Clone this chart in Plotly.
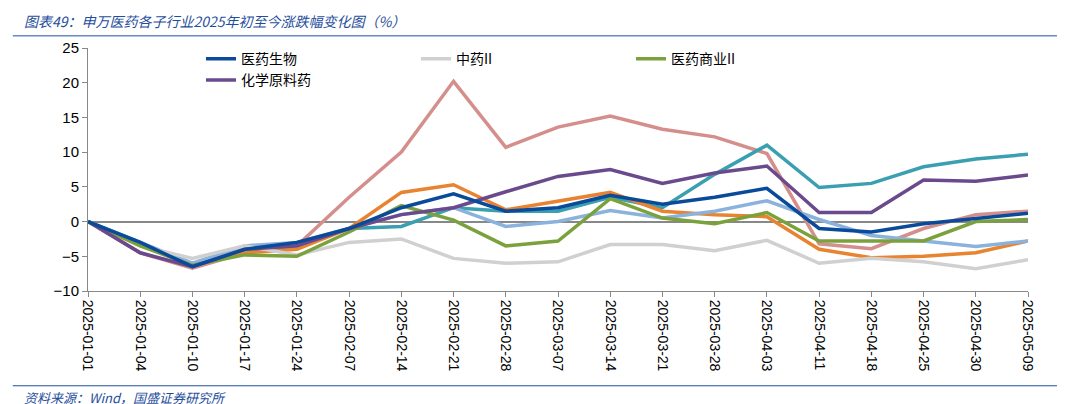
import plotly.graph_objects as go

dates = ['2025-01-01', '2025-01-04', '2025-01-10', '2025-01-17', '2025-01-24', '2025-02-07',
         '2025-02-14', '2025-02-21', '2025-02-28', '2025-03-07', '2025-03-14', '2025-03-21',
         '2025-03-28', '2025-04-03', '2025-04-11', '2025-04-18', '2025-04-25', '2025-04-30',
         '2025-05-09']

yiyao = [0, -3, -6.5, -4, -3, -1, 2, 4, 1.5, 2, 3.8, 2.5, 3.5, 4.8, -1, -1.5, -0.3, 0.5, 1.2]
zhongyao = [0, -3.5, -5.3, -3.5, -4.8, -3, -2.5, -5.3, -6, -5.8, -3.3, -3.3, -4.2, -2.7, -6, -5.3, -5.8, -6.8, -5.5]
shangye = [0, -3.5, -6.3, -4.8, -5, -1.5, 2.3, 0.2, -3.5, -2.8, 3.3, 0.5, -0.3, 1.3, -2.8, -2.8, -2.8, 0, 0.3]
yuanliao = [0, -4.5, -6.5, -4, -3.5, -1, 1, 2, 4.3, 6.5, 7.5, 5.5, 7, 8, 1.3, 1.3, 6, 5.8, 6.7]
pink = [0, -4.5, -6.7, -4.5, -3.5, 3.5, 10, 20.2, 10.7, 13.6, 15.2, 13.3, 12.2, 9.8, -3.2, -3.9, -1, 1, 1.5]
teal = [0, -3, -6.3, -4.5, -3.5, -1, -0.7, 2, 1.5, 1.5, 3.5, 2, 6.8, 11, 4.9, 5.5, 7.9, 9, 9.7]
orange = [0, -3.3, -6.3, -4.5, -4, -1, 4.2, 5.3, 1.7, 3, 4.2, 1.5, 1, 0.7, -4, -5.2, -5, -4.5, -2.8]
lightblue = [0, -3, -6, -3.5, -3, -1, 1, 2, -0.7, 0, 1.6, 0.5, 1.5, 3, 0.3, -2, -2.8, -3.6, -2.8]

fig = go.Figure()

def add(y, name, color, show, rank=1000):
    fig.add_trace(go.Scatter(x=dates, y=y, name=name, mode='lines',
                             line=dict(color=color, width=3.5), showlegend=show,
                             legendrank=rank))

# series not in the legend
add(pink, '医疗服务', '#d48f8c', False)
add(teal, '医疗器械', '#3a9fb0', False)
add(orange, '生物制品', '#e8832f', False)
add(lightblue, '医药研发', '#8ab2dd', False)
add(zhongyao, '中药II', '#d0d0d0', True, 2)
add(shangye, '医药商业II', '#7ba13d', True, 3)
add(yuanliao, '化学原料药', '#6a4a8c', True, 4)
add(yiyao, '医药生物', '#0a4a9a', True, 1)

fig.update_layout(
    width=1065, height=404,
    margin=dict(l=80, r=45, t=40, b=121),
    plot_bgcolor='white', paper_bgcolor='white',
    font=dict(family='Noto Sans CJK SC, Liberation Sans', size=14, color='black'),
    legend=dict(orientation='h', x=0.14, y=1.02, yanchor='top', xanchor='left',
                font=dict(size=14), bgcolor='rgba(0,0,0,0)',
                entrywidth=170, entrywidthmode='pixels'),
    xaxis=dict(type='category', range=[0, 18], tickangle=90, showgrid=False,
               showline=True, linecolor='#888', ticks='outside', tickcolor='#888',
               tickfont=dict(family='Liberation Sans', size=14)),
    yaxis=dict(range=[-10, 25], dtick=5, showgrid=False, zeroline=True,
               zerolinecolor='#888', showline=True, linecolor='#888',
               ticks='outside', tickcolor='#888',
               tickfont=dict(family='Liberation Sans', size=15)),
)

fig.add_annotation(text='<i>图表49：申万医药各子行业2025年初至今涨跌幅变化图（%）</i>',
                   xref='paper', yref='paper', x=-0.07, y=1.11, xanchor='left', yanchor='middle',
                   showarrow=False, font=dict(size=14, color='#1f4e9c'))
fig.add_shape(type='line', xref='paper', yref='paper', x0=-0.08, x1=1.04, y0=1.05, y1=1.05,
              line=dict(color='#1f4e9c', width=1))
fig.add_shape(type='line', xref='paper', yref='paper', x0=-0.08, x1=1.04, y0=-0.39, y1=-0.39,
              line=dict(color='#1f4e9c', width=1))
fig.add_annotation(text='<i>资料来源：Wind，国盛证券研究所</i>',
                   xref='paper', yref='paper', x=-0.07, y=-0.44, xanchor='left', yanchor='middle',
                   showarrow=False, font=dict(size=13, color='#1f4e9c'))

fig.write_html('out.html')
